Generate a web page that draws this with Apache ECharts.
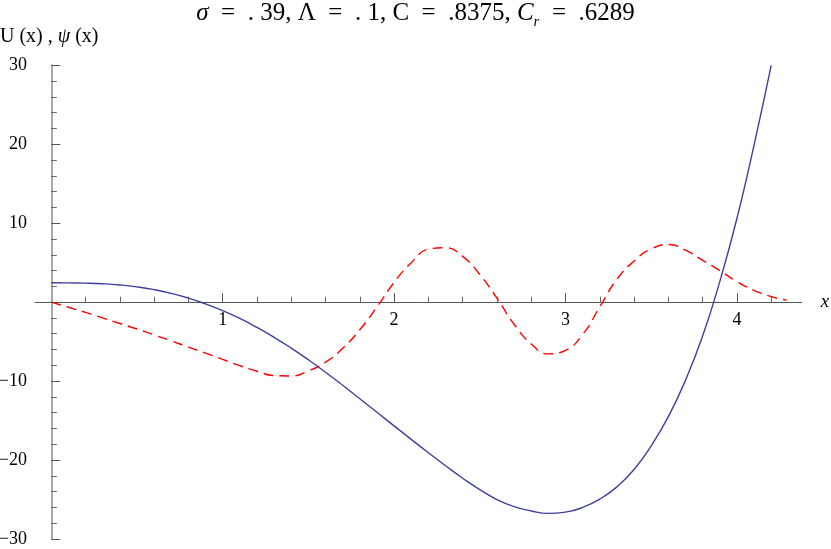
<!DOCTYPE html>
<html>
<head>
<meta charset="utf-8">
<script src="https://cdn.jsdelivr.net/npm/echarts@6/dist/echarts.min.js"></script>
<style>
  html, body { margin: 0; padding: 0; background: #fff; }
  #chart { width: 831px; height: 549px; }
</style>
</head>
<body>
<div id="chart"></div>
<script>
// U(x) - solid blue curve
const uX = [0, 0.1, 0.2, 0.3, 0.4, 0.5, 0.6, 0.7, 0.8, 0.9, 1.0, 1.1, 1.2, 1.3, 1.4, 1.5, 1.6, 1.7, 1.8, 1.9,
            2.0, 2.1, 2.2, 2.3, 2.4, 2.5, 2.6, 2.7, 2.8, 2.9, 3.0, 3.1, 3.2, 3.3, 3.4, 3.5, 3.6, 3.7, 3.8, 3.9,
            4.0, 4.1, 4.2];
const uY = [2.45, 2.44, 2.41, 2.33, 2.18, 1.94, 1.59, 1.12, 0.52, -0.21, -1.07, -2.07, -3.2, -4.45, -5.82, -7.3, -8.88, -10.53, -12.23, -13.95,
            -15.67, -17.38, -19.07, -20.72, -22.3, -23.75, -25.0, -25.9, -26.45, -26.75, -26.6, -26.0, -24.95, -23.4, -21.2, -18.2, -14.5, -9.9, -4.3, 2.6,
            10.6, 19.9, 30];

// psi(x) - dashed red curve
const psiX = [0, 0.1, 0.2, 0.3, 0.4, 0.5, 0.6, 0.7, 0.8, 0.9, 1.0, 1.1, 1.2, 1.3, 1.4, 1.5, 1.6, 1.7, 1.8, 1.9,
              2.0, 2.1, 2.2, 2.3, 2.4, 2.5, 2.6, 2.7, 2.8, 2.9, 3.0, 3.1, 3.2, 3.3, 3.4, 3.5, 3.6, 3.7, 3.8, 3.9,
              4.0, 4.1, 4.2, 4.29];
const psiY = [0, -0.65, -1.3, -2.0, -2.7, -3.4, -4.15, -4.9, -5.7, -6.45, -7.25, -8.05, -8.75, -9.3, -9.35, -8.7, -7.6, -5.85, -3.5, -0.6,
              2.5, 5.0, 6.7, 6.9, 5.8, 3.5, 0.5, -2.8, -5.3, -6.55, -6.1, -4.1, -0.6, 2.9, 5.2, 6.75, 7.3, 6.6, 5.3, 4.0,
              2.6, 1.5, 0.7, 0.25];

const xMajor = [1, 2, 3, 4];
const xMinor = [0.2, 0.4, 0.6, 0.8, 1.2, 1.4, 1.6, 1.8, 2.2, 2.4, 2.6, 2.8, 3.2, 3.4, 3.6, 3.8, 4.2];

const serif = "'Liberation Serif', 'DejaVu Serif', serif";
const sp = '\u2002';

// grid box; the y range is symmetric so y = 0 sits half way down
const gridTop = 65.3, gridBottom = 10;
const midOffset = -(549 - gridTop - gridBottom) / 2;

function pairs(xs, ys) {
    return xs.map((x, i) => [x, ys[i]]);
}

let chart = echarts.init(document.getElementById('chart'));
let option = {
    animation: false,
    title: {
        text: '{i|σ}' + sp + '=' + sp + '. 39, Λ' + sp + '=' + sp + '. 1, C' + sp + '=' + sp + '.8375, {i|C}{sub|r}' + sp + '=' + sp + '.6289',
        left: 'center',
        top: -9,
        textStyle: {
            fontFamily: serif,
            fontSize: 25,
            fontWeight: 'normal',
            color: '#000',
            lineHeight: 34,
            rich: {
                i: { fontFamily: serif, fontSize: 25, fontStyle: 'italic', color: '#000', lineHeight: 34 },
                sub: { fontFamily: serif, fontSize: 15, fontStyle: 'italic', color: '#000', lineHeight: 15, verticalAlign: 'bottom' }
            }
        }
    },
    graphic: [{
        type: 'text',
        left: 0,
        top: 27,
        style: {
            text: 'U (x) , {i|ψ} (x)',
            font: '20px ' + serif,
            fill: '#000',
            rich: {
                i: { fontFamily: serif, fontSize: 20, fontStyle: 'italic', fill: '#000' }
            }
        }
    }],
    grid: {
        left: 35,
        right: 29.3,
        top: gridTop,
        bottom: gridBottom,
        outerBoundsMode: 'none',
        containLabel: false
    },
    xAxis: [
        {
            type: 'value',
            min: -0.095,
            max: 4.378,
            axisLine: { onZero: true, lineStyle: { color: '#555', width: 1 } },
            axisTick: { inside: true, length: 5.5, customValues: xMinor, lineStyle: { color: '#666' } },
            axisLabel: { show: false },
            splitLine: { show: false },
            name: 'x',
            nameLocation: 'end',
            nameGap: 19,
            nameTextStyle: { fontFamily: serif, fontSize: 19, fontStyle: 'italic', color: '#000' }
        },
        {
            type: 'value',
            position: 'bottom',
            offset: midOffset,
            min: -0.095,
            max: 4.378,
            axisLine: { show: false, onZero: false },
            axisTick: { inside: true, length: 9, customValues: xMajor, lineStyle: { color: '#555' } },
            axisLabel: {
                customValues: xMajor,
                margin: 9,
                fontFamily: serif,
                fontSize: 18,
                color: '#000'
            },
            splitLine: { show: false }
        }
    ],
    yAxis: {
        type: 'value',
        min: -30,
        max: 30,
        interval: 10,
        axisLine: { onZero: true, lineStyle: { color: '#aaa', width: 2 } },
        axisTick: { inside: true, length: 9, lineStyle: { color: '#555' } },
        minorTick: { show: true, splitNumber: 5, length: 5.5, lineStyle: { color: '#666' } },
        axisLabel: {
            margin: 8,
            fontFamily: serif,
            fontSize: 18,
            color: '#000',
            formatter: v => v === 0 ? '' : (v < 0 ? '\u2212' + (-v) : String(v))
        },
        splitLine: { show: false },
        minorSplitLine: { show: false }
    },
    series: [
        {
            name: 'U(x)',
            type: 'line',
            xAxisIndex: 0,
            data: pairs(uX, uY),
            showSymbol: false,
            smooth: 0.5,
            lineStyle: { color: '#3f3f9f', width: 1.4 },
            z: 3
        },
        {
            name: 'psi(x)',
            type: 'line',
            xAxisIndex: 0,
            data: pairs(psiX, psiY),
            showSymbol: false,
            smooth: 0.5,
            lineStyle: { color: '#ff0000', width: 1.4, type: [10, 6] },
            z: 2
        }
    ]
};
chart.setOption(option);
</script>
</body>
</html>
